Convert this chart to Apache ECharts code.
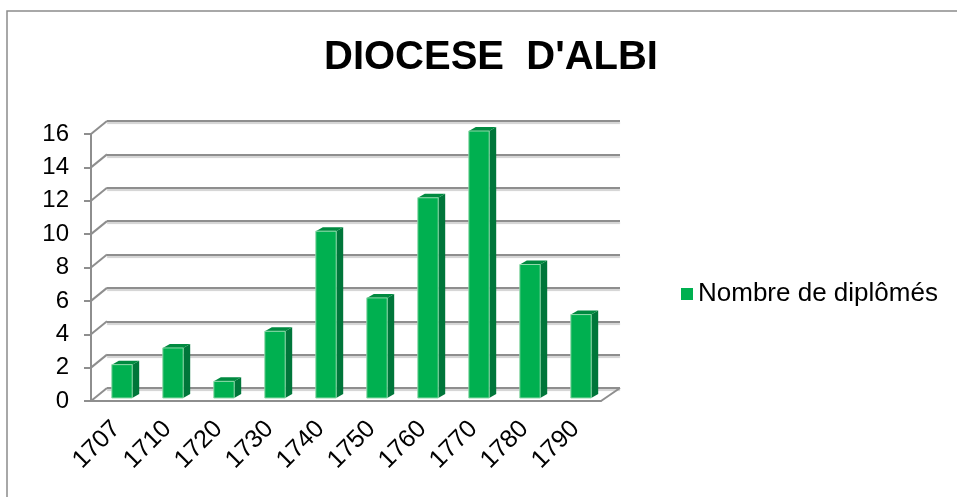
<!DOCTYPE html>
<html>
<head>
<meta charset="utf-8">
<script src="https://cdn.jsdelivr.net/npm/echarts@6/dist/echarts.min.js"></script>
<style>
  html, body { margin: 0; padding: 0; background: #fff; }
  #chart { width: 957px; height: 497px; }
</style>
</head>
<body>
<div id="chart"></div>
<script>
// données du graphique
var annees = ['1707', '1710', '1720', '1730', '1740', '1750', '1760', '1770', '1780', '1790'];
var diplomes = [2, 3, 1, 4, 10, 6, 12, 16, 8, 5];
var graduations = [0, 2, 4, 6, 8, 10, 12, 14, 16];

var FONT = "'Liberation Sans', Arial, sans-serif";
var GRIS = '#8e8e8e';
// profondeur du mur du fond et des barres (effet 3D)
var murDx = 16, murDy = -13;
var barDx = 7, barDy = -4;

var chart = echarts.init(document.getElementById('chart'));

var option = {
  animation: false,
  backgroundColor: '#fff',
  graphic: [{
    type: 'rect',
    shape: { x: 7, y: 11, width: 1000, height: 600 },
    style: { fill: 'none', stroke: '#8c8c8c', lineWidth: 1.5 },
    silent: true
  }],
  title: {
    text: "DIOCESE  D'ALBI",
    left: 319,
    top: 33,
    textStyle: { fontFamily: FONT, fontSize: 40, fontWeight: 'bold', color: '#000' }
  },
  legend: {
    data: [{ name: 'Nombre de diplômés', icon: 'rect' }],
    left: 676,
    top: 276,
    itemWidth: 12,
    itemHeight: 12,
    textStyle: { fontFamily: FONT, fontSize: 26, color: '#000' }
  },
  grid: [
    // plan avant (axes)
    { left: 91, right: 356, top: 134, bottom: 96 },
    // mur du fond (quadrillage)
    { left: 91 + murDx, right: 356 + (-murDx - 3), top: 134 + murDy, bottom: 96 - murDy }
  ],
  xAxis: [
    {
      gridIndex: 0,
      type: 'category',
      data: annees,
      axisLine: { lineStyle: { color: GRIS, width: 2 } },
      axisTick: { interval: 0, length: 6, lineStyle: { color: GRIS, width: 2 } },
      axisLabel: { rotate: 45, interval: 0, margin: 24, fontFamily: FONT, fontSize: 25, color: '#000' },
      splitLine: { show: false }
    },
    {
      gridIndex: 1,
      type: 'category',
      data: annees,
      show: false
    }
  ],
  yAxis: [
    {
      gridIndex: 0,
      type: 'value',
      min: 0, max: 16, interval: 2,
      axisLine: { show: true, lineStyle: { color: GRIS, width: 2 } },
      axisTick: { show: true, length: 7, lineStyle: { color: GRIS, width: 2 } },
      axisLabel: { margin: 22, fontFamily: FONT, fontSize: 24, color: '#000' },
      splitLine: { show: false }
    },
    {
      gridIndex: 1,
      type: 'value',
      min: 0, max: 16, interval: 2,
      axisLine: { show: false },
      axisTick: { show: false },
      axisLabel: { show: false },
      splitLine: {
        show: true,
        lineStyle: { color: GRIS, width: 2, shadowColor: 'rgba(0,0,0,0.18)', shadowOffsetY: 2, shadowBlur: 1 }
      }
    }
  ],
  series: [
    {
      // diagonales du mur gauche et du plancher
      type: 'custom',
      xAxisIndex: 0,
      yAxisIndex: 0,
      silent: true,
      z: 1,
      data: graduations.map(function (v) { return [0, v]; }),
      renderItem: function (params, api) {
        var cs = params.coordSys;
        var v = api.value(1);
        var y = api.coord([0, v])[1];
        var st = { stroke: GRIS, lineWidth: 2 };
        var lignes = [{
          type: 'line',
          shape: { x1: cs.x, y1: y, x2: cs.x + murDx, y2: y + murDy },
          style: st
        }];
        if (v === 0) {
          lignes.push({
            type: 'line',
            shape: { x1: cs.x + cs.width, y1: y, x2: cs.x + cs.width + murDx + 3, y2: y + murDy },
            style: st
          });
        }
        return { type: 'group', children: lignes };
      }
    },
    {
      name: 'Nombre de diplômés',
      type: 'custom',
      xAxisIndex: 0,
      yAxisIndex: 0,
      z: 3,
      itemStyle: { color: '#00b050' },
      data: diplomes.map(function (v, i) { return [i, v]; }),
      renderItem: function (params, api) {
        var base = api.coord([api.value(0), 0]);
        var top = api.coord([api.value(0), api.value(1)]);
        var bw = api.size([1, 0])[0] * 0.4;
        var x0 = base[0] - bw / 2 + 5.5;
        var x1 = x0 + bw;
        var yb = base[1] - 3;
        var yt = top[1] - 3;
        return {
          type: 'group',
          children: [
            {
              type: 'polygon',
              shape: { points: [[x1, yb], [x1 + barDx, yb + barDy], [x1 + barDx, yt + barDy], [x1, yt]] },
              style: { fill: '#00763a' }
            },
            {
              type: 'polygon',
              shape: { points: [[x0, yt], [x1, yt], [x1 + barDx, yt + barDy], [x0 + barDx, yt + barDy]] },
              style: { fill: '#008a40' }
            },
            {
              type: 'rect',
              shape: { x: x0, y: yt, width: bw, height: yb - yt },
              style: { fill: '#00b050', stroke: '#8fd9aa', lineWidth: 1 }
            }
          ]
        };
      }
    }
  ]
};

chart.setOption(option);
</script>
</body>
</html>
